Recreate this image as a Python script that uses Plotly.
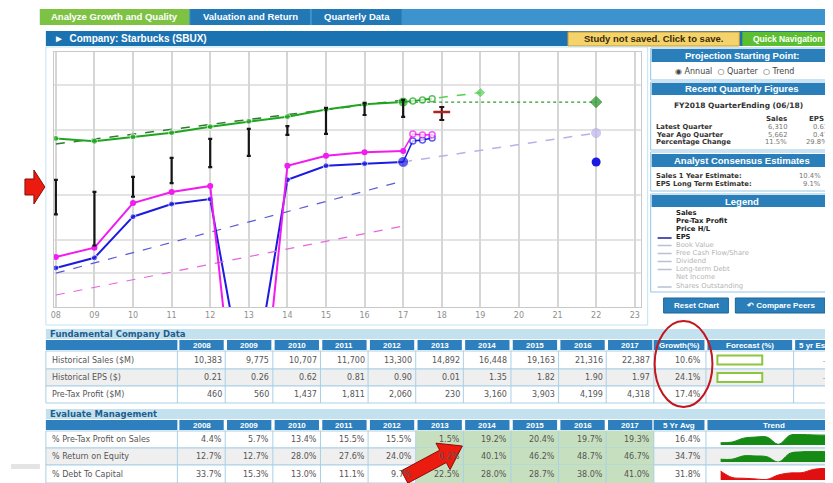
import plotly.graph_objects as go

# The page body has an 8px margin, so the figure is placed at (8, 8) in the window.
OFF = 8
W, H = 825, 475
FONT = "Liberation Sans"
SMALL = "DejaVu Sans"


def px(x):
    return (x - OFF) / W


def py(y):
    return 1 - (y - OFF) / H


# ---------------- data ----------------
years = [2008, 2009, 2010, 2011, 2012, 2013, 2014, 2015, 2016, 2017]
axis_years = list(range(2008, 2024))
axis_labels = ["08", "09", "10", "11", "12", "13", "14", "15", "16", "17",
               "18", "19", "20", "21", "22", "23"]

sales = [10383, 9775, 10707, 11700, 13300, 14892, 16448, 19163, 21316, 22387]
eps = [0.21, 0.26, 0.62, 0.81, 0.90, 0.01, 1.35, 1.82, 1.90, 1.97]
pretax_profit = [460, 560, 1437, 1811, 2060, 230, 3160, 3903, 4199, 4318]
# pre-tax line as drawn on the chart (the 2013 point falls far off the scale)
pretax_plotted = [460, 560, 1437, 1811, 2060, 1, 3160, 3903, 4199, 4318]

price_years = [2008, 2009, 2010, 2011, 2012, 2013, 2014, 2015, 2016, 2017]
price_high = [12.0, 9.3, 12.8, 19.1, 28.5, 35.2, 37.4, 54.8, 60.9, 64.9]
price_low = [5.8, 3.0, 8.4, 11.2, 15.7, 19.9, 31.0, 31.7, 47.2, 45.3]
current_year = 2018
current_high = 56.0
current_low = 42.6
current_price = 50.3

quarter_x = [2017.25, 2017.5, 2017.75]
sales_ttm = [22900, 23400, 24000]
pretax_ttm = [6180, 6050, 6080]
eps_ttm = [3.07, 3.13, 3.27]

trend_x = [2008, 2017]
sales_trend = [9230, 23390]
eps_trend = [0.188, 1.32]
pretax_trend = [206, 885]

sales_proj_x = [2017, 2019]
sales_proj = [22387, 27300]
flat_x = [2017, 2022]
sales_flat = [22387, 22387]
eps_proj = [1.97, 3.63]
eps_flat_x = [2022]
eps_flat = [1.97]

growth_pct = [10.6, 24.1, 17.4]

pretax_margin = [4.4, 5.7, 13.4, 15.5, 15.5, 1.5, 19.2, 20.4, 19.7, 19.3]
roe = [12.7, 12.7, 28.0, 27.6, 24.0, 0.2, 40.1, 46.2, 48.7, 46.7]
debt_to_capital = [33.7, 15.3, 13.0, 11.1, 9.7, 22.5, 28.0, 28.7, 38.0, 41.0]
five_yr_avg = [16.4, 34.7, 31.8]

quarter_rows = ["Latest Quarter", "Year Ago Quarter", "Percentage Change"]
quarter_sales = ["6,310", "5,662", "11.5%"]
quarter_eps = ["0.61", "0.47", "29.8%"]
legend_items = ["Sales", "Pre-Tax Profit", "Price H/L", "EPS", "Book Value",
                "Free Cash Flow/Share", "Dividend", "Long-term Debt",
                "Net Income", "Shares Outstanding"]

# ---------------- figure ----------------
fig = go.Figure()

GREEN = "#1fa51f"
MAG = "#f01cf0"
BLUE = "#1c1ce0"

# trend lines
fig.add_trace(go.Scatter(x=trend_x, y=sales_trend, mode="lines", yaxis="y2",
                         line=dict(color="#2c7d2c", width=1.5, dash="dash")))
fig.add_trace(go.Scatter(x=trend_x, y=eps_trend, mode="lines", yaxis="y",
                         line=dict(color="#5a5ad8", width=1.2, dash="dash")))
fig.add_trace(go.Scatter(x=trend_x, y=pretax_trend, mode="lines", yaxis="y3",
                         line=dict(color="#e466e0", width=1.2, dash="dash")))

# projections
fig.add_trace(go.Scatter(x=flat_x, y=sales_flat, mode="lines+markers", yaxis="y2",
                         line=dict(color="#2f9a2f", width=1.2, dash="dot"),
                         marker=dict(size=[0, 9], color="#1f8f1f", symbol="diamond")))
fig.add_trace(go.Scatter(x=sales_proj_x, y=sales_proj, mode="lines+markers", yaxis="y2",
                         line=dict(color="#55d055", width=1.5, dash="dash"),
                         marker=dict(size=[0, 8], color="#55d055", symbol="diamond")))
fig.add_trace(go.Scatter(x=flat_x, y=eps_proj, mode="lines+markers", yaxis="y",
                         line=dict(color="#b8b0e8", width=1.5, dash="dash"),
                         marker=dict(size=[0, 9], color="#bcb4ec")))
fig.add_trace(go.Scatter(x=eps_flat_x, y=eps_flat, mode="markers", yaxis="y",
                         marker=dict(size=9, color=BLUE)))

# historical lines
fig.add_trace(go.Scatter(x=years, y=sales, mode="lines+markers", yaxis="y2",
                         line=dict(color=GREEN, width=2),
                         marker=dict(size=[6] * 9 + [10], color=GREEN)))
fig.add_trace(go.Scatter(x=years, y=pretax_plotted, mode="lines+markers", yaxis="y3",
                         line=dict(color=MAG, width=2),
                         marker=dict(size=6, color=MAG)))
fig.add_trace(go.Scatter(x=years, y=eps, mode="lines+markers", yaxis="y",
                         line=dict(color=BLUE, width=2),
                         marker=dict(size=[6] * 9 + [11], color=BLUE)))

# trailing quarterly points
fig.add_trace(go.Scatter(x=[years[-1]] + quarter_x, y=[sales[-1]] + sales_ttm,
                         mode="lines+markers", yaxis="y2",
                         line=dict(color=GREEN, width=1.5),
                         marker=dict(size=[0, 6, 6, 6], color="white",
                                     line=dict(color=GREEN, width=1.5))))
fig.add_trace(go.Scatter(x=[years[-1]] + quarter_x, y=[pretax_profit[-1]] + pretax_ttm,
                         mode="lines+markers", yaxis="y3",
                         line=dict(color=MAG, width=1.5),
                         marker=dict(size=[0, 6, 6, 6], color="white",
                                     line=dict(color=MAG, width=1.5))))
fig.add_trace(go.Scatter(x=[years[-1]] + quarter_x, y=[eps[-1]] + eps_ttm,
                         mode="lines+markers", yaxis="y",
                         line=dict(color=BLUE, width=1.5),
                         marker=dict(size=[0, 6, 6, 6], color="white",
                                     line=dict(color=BLUE, width=1.5))))

# price high / low bars
mid = [(h * l) ** 0.5 for h, l in zip(price_high, price_low)]
fig.add_trace(go.Scatter(
    x=price_years, y=mid, mode="markers", yaxis="y4",
    marker=dict(size=1, color="rgba(0,0,0,0)"),
    error_y=dict(type="data", symmetric=False,
                 array=[h - m for h, m in zip(price_high, mid)],
                 arrayminus=[m - l for m, l in zip(mid, price_low)],
                 color="#151515", thickness=2.2, width=2)))
cmid = (current_high * current_low) ** 0.5
fig.add_trace(go.Scatter(
    x=[current_year], y=[cmid], mode="markers", yaxis="y4",
    marker=dict(size=1, color="rgba(0,0,0,0)"),
    error_y=dict(type="data", symmetric=False, array=[current_high - cmid],
                 arrayminus=[cmid - current_low], color="#2a1010",
                 thickness=2, width=2.5)))
fig.add_trace(go.Scatter(x=[current_year], y=[current_price], mode="markers", yaxis="y4",
                         marker=dict(symbol="line-ew", size=12,
                                     line=dict(color="#b02424", width=2.5))))

# sparklines (Trend column)
spark = [
    (pretax_margin, "#158a15", [0, 21.5], 434, 445),
    (roe, "#158a15", [0, 50], 451, 462),
    (debt_to_capital, "#e01010", [8, 42], 468, 480),
]
for i, (vals, col, rng, y0, y1) in enumerate(spark):
    xa = "x%d" % (i + 2)
    ya = "y%d" % (i + 5)
    fig.add_trace(go.Scatter(x=years, y=vals, mode="lines", xaxis=xa, yaxis=ya,
                             line=dict(color=col, width=1, shape="spline"),
                             fill="tozeroy", fillcolor=col))
    fig.layout["xaxis%d" % (i + 2)] = dict(domain=[px(720), px(825)], anchor=ya,
                                           range=[2008, 2017], visible=False)
    fig.layout["yaxis%d" % (i + 5)] = dict(domain=[py(y1), py(y0)], anchor=xa,
                                           range=rng, visible=False)

# ---------------- layout / decoration ----------------
shapes = []
ann = []


def rect(x0, y0, x1, y1, fill=None, line=None, lw=1, layer="below"):
    shapes.append(dict(type="rect", xref="paper", yref="paper",
                       x0=px(x0), x1=px(x1), y0=py(y1), y1=py(y0),
                       fillcolor=fill if fill else "rgba(0,0,0,0)",
                       line=dict(color=line if line else "rgba(0,0,0,0)",
                                 width=lw if line else 0),
                       layer=layer))


def hline(x0, x1, y, color, w=1, layer="below"):
    shapes.append(dict(type="line", xref="paper", yref="paper",
                       x0=px(x0), x1=px(x1), y0=py(y), y1=py(y),
                       line=dict(color=color, width=w), layer=layer))


def vline(x, y0, y1, color, w=1, layer="below"):
    shapes.append(dict(type="line", xref="paper", yref="paper",
                       x0=px(x), x1=px(x), y0=py(y1), y1=py(y0),
                       line=dict(color=color, width=w), layer=layer))


def text(x, y, s, size=8, color="#444", bold=False, xanchor="left", family=FONT):
    if bold:
        s = "<b>" + s + "</b>"
    ann.append(dict(x=px(x), y=py(y), xref="paper", yref="paper", text=s,
                    showarrow=False, xanchor=xanchor, yanchor="middle",
                    borderpad=0,
                    font=dict(size=size, color=color, family=family)))


# tab bar
rect(37, 9, 833, 25, fill="#3d93cd")
rect(37, 9, 187, 25, fill="#7ec243")
rect(188, 9, 308, 25, fill="#2277b5")
rect(310, 9, 400, 25, fill="#2277b5")
text(112, 17, "Analyze Growth and Quality", 9.5, "white", True, "center")
text(248, 17, "Valuation and Return", 9.5, "white", True, "center")
text(355, 17, "Quarterly Data", 9.5, "white", True, "center")

# company bar & buttons
rect(43, 31, 833, 46, fill="#1b72b0")
text(50, 38.5, "\u25ba  Company: Starbucks (SBUX)", 10, "white", True)
rect(567, 32, 739, 46, fill="#f4d36c", line="#c09a35")
text(653, 39, "Study not saved. Click to save.", 9.5, "#3a2a05", True, "center")
rect(742, 32, 833, 46, fill="#5dbf2f")
text(752, 39, "Quick Navigation", 8.5, "white", True)

# chart panel
rect(43, 47, 647, 325, fill="white", line="#bfe2f2")
for gy in [85, 130, 195, 240, 273]:
    hline(51, 640, gy, "#dadada", 1.3)

# right-hand panels
PANEL_LINE = "#95c6e4"
HEAD = "#2a7fbb"
rect(650, 48, 833, 80, fill="white", line=PANEL_LINE)
rect(651, 49, 833, 62, fill=HEAD)
text(742, 55.5, "Projection Starting Point:", 9.5, "white", True, "center")
text(734, 71, "\u25c9 Annual  \u25cb Quarter  \u25cb Trend", 8, "#444", False, "center", SMALL)

rect(650, 82, 833, 150, fill="white", line=PANEL_LINE)
rect(651, 83, 833, 95, fill=HEAD)
text(742, 89, "Recent Quarterly Figures", 9.5, "white", True, "center")
text(738, 105, "FY2018 QuarterEnding (06/18)", 7.5, "#333", True, "center", SMALL)
text(788, 119, "Sales", 7, "#333", True, "right", SMALL)
text(808, 119, "EPS", 7, "#333", True, "left", SMALL)
for i, lab in enumerate(quarter_rows):
    yy = 127 + i * 7.5
    text(654, yy, lab, 6.8, "#333", True, "left", SMALL)
    text(788, yy, quarter_sales[i], 6.8, "#777", False, "right", SMALL)
    text(829, yy, quarter_eps[i], 6.8, "#777", False, "right", SMALL)

rect(650, 152, 833, 191, fill="white", line=PANEL_LINE)
rect(651, 154, 833, 167, fill=HEAD)
text(742, 160.5, "Analyst Consensus Estimates", 9.5, "white", True, "center")
text(654, 176, "Sales 1 Year Estimate:", 6.8, "#333", True, "left", SMALL)
text(654, 184, "EPS Long Term Estimate:", 6.8, "#333", True, "left", SMALL)
text(822, 176, "10.4%", 6.8, "#777", False, "right", SMALL)
text(822, 184, "9.1%", 6.8, "#777", False, "right", SMALL)

rect(650, 194, 833, 292, fill="white", line=PANEL_LINE)
rect(651, 195, 833, 207, fill=HEAD)
text(742, 201, "Legend", 9.5, "white", True, "center")
leg_y = [213, 221, 229, 237, 244.5, 252.5, 260.5, 268.5, 276.5, 286]
leg_line = [None, None, None, "#1c1c9a", "#b8bfd6", "#b8bfd6", "#b8bfd6",
            "#b8bfd6", None, "#b8bfd6"]
for i, lab in enumerate(legend_items):
    dark = i < 4
    text(674, leg_y[i], lab, 6.8, "#222" if dark else "#b4b4b4", dark, "left", SMALL)
    if leg_line[i]:
        hline(657, 671, leg_y[i] + 1, leg_line[i], 1.5)

rect(663, 298, 728, 313, fill=HEAD, line="#1d6597")
text(695.5, 305.5, "Reset Chart", 8, "white", True, "center")
rect(735, 298, 825, 313, fill=HEAD, line="#1d6597")
text(780, 305.5, "\u21b6 Compare Peers", 8, "white", True, "center")

# ---------- tables ----------
col_x0 = [177 + i * 47.8 for i in range(10)]
CW = 44.5
CELL_LINE = "#a9d0e7"
HDR = "#2d80bd"


def table_frame(title, top, extra_headers):
    rect(43, top, 833, top + 10, fill="#c4e1f0")
    text(46, top + 5, title, 8.5, "#1e5d8c", True, "left", SMALL)
    hy0, hy1 = top + 11, top + 21
    rect(43, hy0, 175, hy1, fill=HDR)
    for i, yv in enumerate(years):
        rect(col_x0[i], hy0, col_x0[i] + CW, hy1, fill=HDR)
        text(col_x0[i] + CW / 2, (hy0 + hy1) / 2, str(yv), 8, "white", True, "center")
    for (x0, x1, lab, anchor) in extra_headers:
        rect(x0, hy0, x1, hy1, fill=HDR)
        if anchor == "center":
            text((x0 + x1) / 2, (hy0 + hy1) / 2, lab, 8, "white", True, "center")
        else:
            text(x0 + 3, (hy0 + hy1) / 2, lab, 8, "white", True)


def fmt_int(v):
    return "{:,}".format(v)


# Fundamental Company Data
table_frame("Fundamental Company Data", 329,
            [(653, 704, "Growth(%)", "center"), (707, 792, "Forecast (%)", "center"),
             (795, 840, "5 yr Est", "left")])
fund_rows = [
    ("Historical Sales ($M)", [fmt_int(v) for v in sales], 351, 369, "white"),
    ("Historical EPS ($)", ["%.2f" % v for v in eps], 369, 386, "#efefef"),
    ("Pre-Tax Profit ($M)", [fmt_int(v) for v in pretax_profit], 386, 403, "white"),
]
for r, (lab, vals, y0, y1, bg) in enumerate(fund_rows):
    rect(43, y0, 833, y1, fill=bg, line=CELL_LINE)
    for xb in [175] + [c + CW + 1.5 for c in col_x0] + [705.5, 793.5]:
        vline(xb, y0, y1, CELL_LINE)
    yc = (y0 + y1) / 2
    text(48, yc, lab, 8, "#555", False, "left", SMALL)
    for i, v in enumerate(vals):
        text(col_x0[i] + CW - 1, yc, v, 8, "#555", False, "right", SMALL)
    text(702, yc, "%.1f%%" % growth_pct[r], 8, "#555", False, "right", SMALL)
    if r < 2:
        shapes.append(dict(type="rect", xref="paper", yref="paper", x0=px(717), x1=px(762),
                           y0=py(yc + 4.5), y1=py(yc - 4.5), fillcolor="white",
                           line=dict(color="#8cc540", width=2), layer="above"))
        text(826, yc, "\u2014", 7, "#888", False, "center")

# Evaluate Management
table_frame("Evaluate Management", 409,
            [(653, 704, "5 Yr Avg", "center"), (707, 840, "Trend", "center")])
eval_rows = [
    ("% Pre-Tax Profit on Sales", pretax_margin, 431, 448, "white"),
    ("% Return on Equity", roe, 448, 465, "#efefef"),
    ("% Debt To Capital", debt_to_capital, 465, 483, "white"),
]
for r, (lab, vals, y0, y1, bg) in enumerate(eval_rows):
    rect(43, y0, 833, y1, fill=bg, line=CELL_LINE)
    rect(col_x0[5] - 1.5, y0, col_x0[9] + CW + 1.5, y1, fill="#c6e0bf")
    for xb in [175] + [c + CW + 1.5 for c in col_x0] + [705.5]:
        vline(xb, y0, y1, CELL_LINE)
    yc = (y0 + y1) / 2
    text(48, yc, lab, 8, "#555", False, "left", SMALL)
    for i, v in enumerate(vals):
        text(col_x0[i] + CW - 1, yc, "%.1f%%" % v, 8, "#555", False, "right", SMALL)
    text(702, yc, "%.1f%%" % five_yr_avg[r], 8, "#555", False, "right", SMALL)

# left gray stub
rect(8, 464, 37, 469, fill="#e4e4e4")

# red annotations: arrows and ellipse
ARROW_FILL = "#ec1b10"
ARROW_LINE = "#8a0d08"


def poly(points):
    d = "M " + " L ".join("%.5f,%.5f" % (px(x), py(y)) for x, y in points) + " Z"
    shapes.append(dict(type="path", xref="paper", yref="paper", path=d,
                       fillcolor=ARROW_FILL, line=dict(color=ARROW_LINE, width=1),
                       layer="above"))


poly([(22, 179), (31, 179), (31, 170), (42, 187), (31, 204), (31, 195), (22, 195)])


def arrow(tail, tip, hw=7, hhw=15, hl=22):
    dx, dy = tip[0] - tail[0], tip[1] - tail[1]
    ln = (dx * dx + dy * dy) ** 0.5
    ux, uy = dx / ln, dy / ln
    nx, ny = -uy, ux
    bx, by = tip[0] - hl * ux, tip[1] - hl * uy
    pts = [(tail[0] - hw * nx, tail[1] - hw * ny), (bx - hw * nx, by - hw * ny),
           (bx - hhw * nx, by - hhw * ny), tip, (bx + hhw * nx, by + hhw * ny),
           (bx + hw * nx, by + hw * ny), (tail[0] + hw * nx, tail[1] + hw * ny)]
    poly(pts)


arrow((403, 477), (461, 446))

shapes.append(dict(type="circle", xref="paper", yref="paper", x0=px(654), x1=px(712),
                   y0=py(407), y1=py(321), line=dict(color="#c3161e", width=2),
                   layer="above"))

fig.update_layout(
    width=W, height=H, margin=dict(l=0, r=0, t=0, b=0),
    paper_bgcolor="white", plot_bgcolor="rgba(0,0,0,0)",
    showlegend=False, shapes=shapes, annotations=ann,
    xaxis=dict(domain=[px(51), px(640)], range=[2007.948, 2023.155],
               tickvals=axis_years, ticktext=axis_labels, showgrid=True,
               gridcolor="#d6d6d6", gridwidth=1.5, zeroline=False,
               showline=True, linecolor="#c9c9c9", mirror=True, ticks="",
               tickfont=dict(size=8, color="#8f8f8f", family="DejaVu Sans"),
               fixedrange=True),
    yaxis=dict(domain=[py(307), py(52)], type="log", range=[-1.036, 1.303],
               showgrid=False, showticklabels=False, zeroline=False,
               showline=True, linecolor="#c9c9c9", mirror=True, ticks=""),
    yaxis2=dict(overlaying="y", type="log", range=[2.470, 4.809], visible=False),
    yaxis3=dict(overlaying="y", type="log", range=[2.204, 4.543], visible=False),
    yaxis4=dict(overlaying="y", type="log", range=[-0.087, 2.252], visible=False),
)

fig.write_html("out.html")
